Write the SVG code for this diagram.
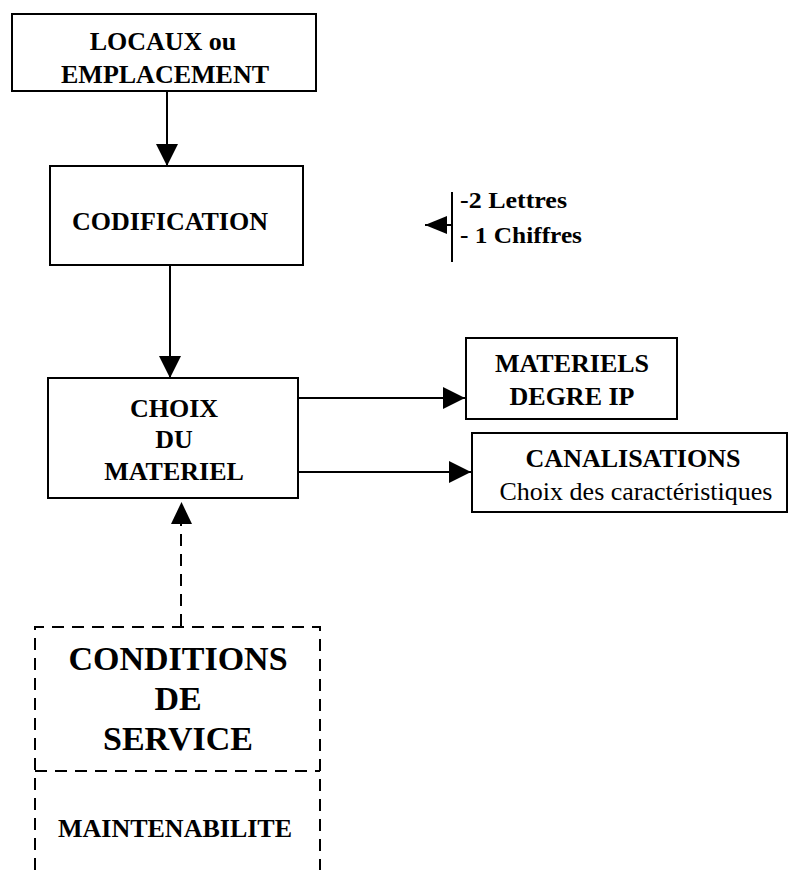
<svg xmlns="http://www.w3.org/2000/svg" width="788" height="870" viewBox="0 0 788 870">
<style>
.box{fill:#fff;stroke:#000;stroke-width:2}
.dash{fill:none;stroke:#000;stroke-width:2;stroke-dasharray:12 8}
.ln{fill:none;stroke:#000;stroke-width:2}
.t{font-family:"Liberation Serif","Times New Roman",serif;font-weight:bold;font-size:26px;fill:#000;text-anchor:middle}
.r{font-weight:normal}
.big{font-size:34px}
.s{font-size:23px;text-anchor:start}
</style>
<defs>
<marker id="ah" viewBox="0 0 22 22" refX="22" refY="11" markerWidth="22" markerHeight="22" markerUnits="userSpaceOnUse" orient="auto">
<path d="M0,0 L22,11 L0,22 Z" fill="#000"/>
</marker>
<marker id="ahs" viewBox="0 0 22 18" refX="22" refY="9" markerWidth="22" markerHeight="18" markerUnits="userSpaceOnUse" orient="auto">
<path d="M0,0 L22,9 L0,18 Z" fill="#000"/>
</marker>
</defs>
<g id="connectors">
<line class="ln" x1="167" y1="91" x2="167" y2="166" marker-end="url(#ah)"/>
<line class="ln" x1="170" y1="265" x2="170" y2="378" marker-end="url(#ah)"/>
<line class="ln" x1="298" y1="398" x2="465" y2="398" marker-end="url(#ah)"/>
<line class="ln" x1="298" y1="472" x2="471" y2="472" marker-end="url(#ah)"/>
<line class="dash" x1="181" y1="626" x2="181" y2="522"/>
<path d="M171,524 L181.5,502 L192,524 Z" fill="#000"/>
<line class="ln" x1="452" y1="192" x2="452" y2="262"/>
<line class="ln" x1="452" y1="225" x2="425" y2="225" marker-end="url(#ahs)"/>
</g>
<g id="locaux">
<rect class="box" x="12" y="14" width="304" height="77"/>
<text class="t" x="163" y="50">LOCAUX ou</text>
<text class="t" x="165" y="83">EMPLACEMENT</text>
</g>
<g id="codification">
<rect class="box" x="50" y="166" width="253" height="99"/>
<text class="t" x="170" y="230">CODIFICATION</text>
</g>
<g id="codes">
<text class="t s" x="460" y="208" textLength="107" lengthAdjust="spacingAndGlyphs">-2 Lettres</text>
<text class="t s" x="460" y="243" textLength="122" lengthAdjust="spacingAndGlyphs">- 1 Chiffres</text>
</g>
<g id="choix">
<rect class="box" x="48" y="378" width="250" height="120"/>
<text class="t" x="174" y="417">CHOIX</text>
<text class="t" x="174" y="448">DU</text>
<text class="t" x="174" y="480">MATERIEL</text>
</g>
<g id="materiels">
<rect class="box" x="466" y="338" width="211" height="81"/>
<text class="t" x="572" y="372">MATERIELS</text>
<text class="t" x="572" y="405">DEGRE IP</text>
</g>
<g id="canalisations">
<rect class="box" x="472" y="433" width="315" height="79"/>
<text class="t" x="633" y="467">CANALISATIONS</text>
<text class="t r" x="636" y="500">Choix des caractéristiques</text>
</g>
<g id="conditions">
<path class="dash" d="M35,870 L35,627 L320,627 L320,870"/>
<text class="t big" x="178" y="670">CONDITIONS</text>
<text class="t big" x="178" y="710">DE</text>
<text class="t big" x="178" y="750">SERVICE</text>
</g>
<g id="maintenabilite">
<line class="dash" x1="35" y1="771" x2="320" y2="771"/>
<text class="t" x="175" y="837">MAINTENABILITE</text>
</g>
</svg>
